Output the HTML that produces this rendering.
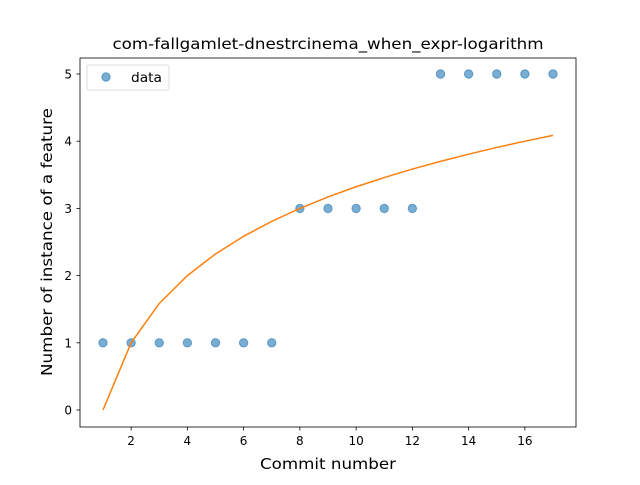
<!DOCTYPE html>
<html><head><meta charset="utf-8"><style>
body{margin:0;background:#fff;}
svg text{font-family:"DejaVu Sans","Liberation Sans",sans-serif;fill:#000;}
</style></head><body>
<svg width="640" height="480" viewBox="0 0 640 480">
<rect width="640" height="480" fill="#fff"/>
<text x="328" y="49" font-size="15.5" text-anchor="middle" textLength="431" lengthAdjust="spacingAndGlyphs">com-fallgamlet-dnestrcinema_when_expr-logarithm</text>
<g id="plot"></g>
<rect x="80" y="58" width="496" height="369" fill="none" stroke="#000" stroke-width="0.8"/>
<text x="328" y="469" font-size="15.5" text-anchor="middle" textLength="136" lengthAdjust="spacingAndGlyphs">Commit number</text>
<text transform="translate(52,242) rotate(-90)" font-size="15.5" text-anchor="middle" textLength="268" lengthAdjust="spacingAndGlyphs">Number of instance of a feature</text>
<g>
<rect x="87" y="65" width="82" height="25" rx="2" fill="#fff" stroke="#ccc" stroke-width="0.8" opacity="0.8"/>
<circle cx="106" cy="77" r="4.2" fill="#1f77b4" fill-opacity="0.6" stroke="#1f77b4" stroke-opacity="0.6"/>
<text x="131" y="82" font-size="13" textLength="31" lengthAdjust="spacingAndGlyphs">data</text>
</g>
</svg>
<script>
const xs=[1,2,3,4,5,6,7,8,9,10,11,12,13,14,15,16,17];
const dataVals=[1,1,1,1,1,1,1,3,3,3,3,3,5,5,5,5,5];
const fitVals=[0,1,1.585,2,2.322,2.585,2.807,3,3.17,3.322,3.459,3.585,3.7,3.807,3.907,4,4.087];
const xTicks=[2,4,6,8,10,12,14,16];
const yTicks=[0,1,2,3,4,5];
const NS="http://www.w3.org/2000/svg";
const X=v=>103+(v-1)*28.125;
const Y=v=>410-v*67.2;
const g=document.getElementById('plot');
function mk(t,a){const e=document.createElementNS(NS,t);for(const k in a)e.setAttribute(k,a[k]);g.appendChild(e);return e;}
xTicks.forEach(t=>{
 const l=mk('line',{x1:X(t),x2:X(t),y1:427,y2:430.5,stroke:'#000','stroke-width':0.8});
 
 
 const tx=mk('text',{x:X(t),y:445,'font-size':12,'text-anchor':'middle'});tx.textContent=t;
 
 
});
yTicks.forEach(t=>{
 const l=mk('line',{x1:76.5,x2:80,y1:Y(t),y2:Y(t),stroke:'#000','stroke-width':0.8});
 
 
 const tx=mk('text',{x:72,y:Y(t)+4.5,'font-size':12,'text-anchor':'end'});tx.textContent=t;
 
 
});
xs.forEach((x,i)=>{
 const c=mk('circle',{cx:X(x),cy:Y(dataVals[i]),r:4.2,fill:'#1f77b4','fill-opacity':0.6,stroke:'#1f77b4','stroke-opacity':0.6});
 
 
});
const p=mk('polyline',{points:xs.map((x,i)=>X(x)+','+Y(fitVals[i])).join(' '),fill:'none',stroke:'#ff7f0e','stroke-width':1.5});


</script>
</body></html>
